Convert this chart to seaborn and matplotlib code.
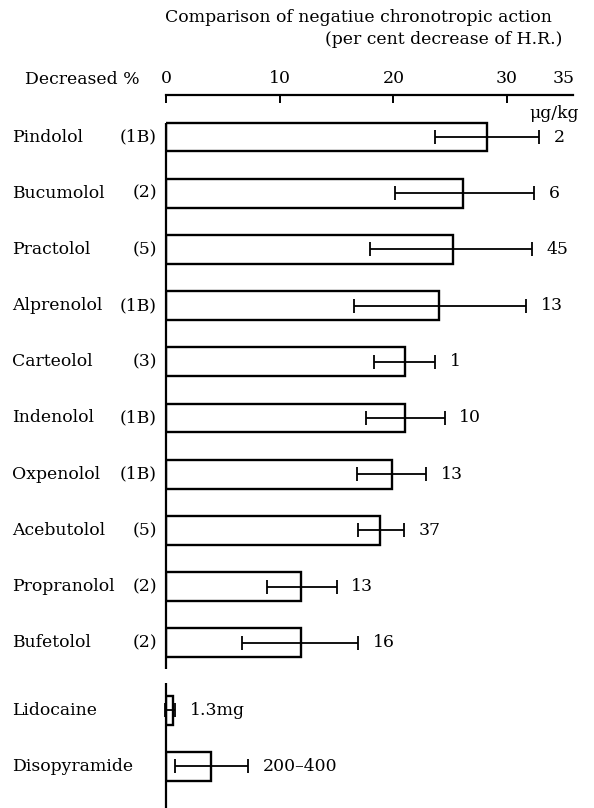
import numpy as np
import pandas as pd
import matplotlib
matplotlib.use("Agg")
import matplotlib.pyplot as plt
import matplotlib.transforms as mtransforms
import seaborn as sns

# ---------------- data ----------------
drugs = ["Pindolol", "Bucumolol", "Practolol", "Alprenolol", "Carteolol",
         "Indenolol", "Oxpenolol", "Acebutolol", "Propranolol", "Bufetolol",
         "Lidocaine", "Disopyramide"]
classes = ["(1B)", "(2)", "(5)", "(1B)", "(3)", "(1B)", "(1B)", "(5)", "(2)", "(2)", "", ""]
decrease = [28.2, 26.1, 25.2, 24.0, 21.0, 21.0, 19.9, 18.8, 11.9, 11.9, 0.6, 4.0]
err_low = [23.7, 20.1, 17.9, 16.5, 18.3, 17.6, 16.8, 16.9, 8.9, 6.7, -0.1, 0.8]
err_high = [32.8, 32.4, 32.2, 31.7, 23.7, 24.5, 22.9, 20.9, 15.0, 16.9, 0.8, 7.2]
doses = ["2", "6", "45", "13", "1", "10", "13", "37", "13", "16", "1.3mg", "200–400"]
groups = ["beta"] * 10 + ["other"] * 2
xticks = [0, 10, 20, 30, 35]

# ---------------- layout ----------------
W, H = 594, 808
group_gap = 0.2
ypos = [i + (group_gap if g == "other" else 0.0) for i, g in enumerate(groups)]

df = pd.DataFrame({"drug": drugs, "decrease": decrease, "y": ypos})

sns.set_style("white")
plt.rcParams["font.family"] = ["DejaVu Serif", "Liberation Serif"]
plt.rcParams["text.color"] = "black"
plt.rcParams["xtick.color"] = "black"
FS = 12.4

fig = plt.figure(figsize=(W / 100, H / 100), dpi=100)
ax_left, ax_right, ax_top, ax_bottom = 166, 573, 95, 808
ax = fig.add_axes([ax_left / W, 1 - ax_bottom / H, (ax_right - ax_left) / W, (ax_bottom - ax_top) / H])

sns.barplot(data=df, x="decrease", y="y", orient="h", native_scale=True,
            errorbar=None, width=0.51, color="white", edgecolor="black",
            linewidth=1.7, ax=ax)
for p in ax.patches:
    p.set_facecolor("white")
    p.set_edgecolor("black")

dec = np.array(decrease)
ax.errorbar(x=dec, y=ypos, xerr=[dec - np.array(err_low), np.array(err_high) - dec],
            fmt="none", ecolor="black", elinewidth=1.3, capsize=4.7, capthick=1.3,
            clip_on=False, zorder=5)

for xv, yv, t in zip(err_high, ypos, doses):
    ax.annotate(t, xy=(xv, yv), xytext=(10.5, 0), textcoords="offset points",
                ha="left", va="center", fontsize=FS, color="black")

ax.set_xlim(0, (ax_right - ax_left) / 11.37)
y_top = (ax_top - 137) / 56.2
y_bot = (ax_bottom - 137) / 56.2
ax.set_ylim(y_bot, y_top)

# axis styling
for s in ["left", "right", "bottom"]:
    ax.spines[s].set_visible(False)
ax.spines["top"].set_linewidth(1.6)
ax.spines["top"].set_color("black")
ax.xaxis.tick_top()
ax.set_xticks(xticks)
ax.set_xticklabels([str(v) for v in xticks], fontsize=FS, color="black")
ax.tick_params(axis="x", direction="in", length=6, width=1.4, pad=6, colors="black")
ax.xaxis.get_major_ticks()[-1].tick2line.set_visible(False)
ax.xaxis.get_major_ticks()[-1].tick1line.set_visible(False)
ax.set_yticks([])
ax.set_xlabel("")
ax.set_ylabel("")

# broken vertical axis
ax.plot([0, 0], [-0.255, 9.47], color="black", lw=1.6, clip_on=False, solid_capstyle="butt")
ax.plot([0, 0], [9.72, y_bot], color="black", lw=1.6, clip_on=False, solid_capstyle="butt")

# drug labels
tr = mtransforms.blended_transform_factory(fig.transFigure, ax.transData)
for name, cl, yv in zip(drugs, classes, ypos):
    ax.text(12 / W, yv, name, transform=tr, ha="left", va="center", fontsize=FS, color="black")
    if cl:
        ax.text(157 / W, yv, cl, transform=tr, ha="right", va="center", fontsize=FS, color="black")

# titles and axis texts
fig.text(552 / W, 1 - 17 / H, "Comparison of negatiue chronotropic action",
         ha="right", va="center", fontsize=FS)
fig.text(562 / W, 1 - 39 / H, "(per cent decrease of H.R.)",
         ha="right", va="center", fontsize=FS)
fig.text(140 / W, 1 - 80 / H, "Decreased %", ha="right", va="center", fontsize=FS)
fig.text(579 / W, 1 - 113 / H, "μg/kg", ha="right", va="center", fontsize=FS)

fig.savefig("out.png", dpi=100, facecolor="white")
